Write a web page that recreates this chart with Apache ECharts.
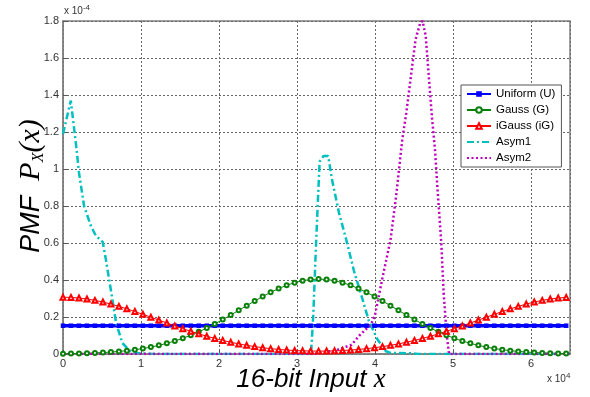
<!DOCTYPE html>
<html>
<head>
<meta charset="utf-8">
<script src="https://cdn.jsdelivr.net/npm/echarts@6/dist/echarts.min.js"></script>
<style>html,body{margin:0;padding:0;background:#fff}#c{width:590px;height:397px}</style>
</head>
<body>
<div id="c"></div>
<script>
// Input codes sampled every 1024 (x axis, raw units)
var xSamples = [0,1024,2048,3072,4096,5120,6144,7168,8192,9216,10240,11264,12288,13312,14336,15360,
16384,17408,18432,19456,20480,21504,22528,23552,24576,25600,26624,27648,28672,29696,30720,31744,
32768,33792,34816,35840,36864,37888,38912,39936,40960,41984,43008,44032,45056,46080,47104,48128,
49152,50176,51200,52224,53248,54272,55296,56320,57344,58368,59392,60416,61440,62464,63488,64512];

// values in units of 1e-4
var uniformU = [0.153,0.153,0.153,0.153,0.153,0.153,0.153,0.153,0.153,0.153,0.153,0.153,0.153,0.153,0.153,0.153,
0.153,0.153,0.153,0.153,0.153,0.153,0.153,0.153,0.153,0.153,0.153,0.153,0.153,0.153,0.153,0.153,
0.153,0.153,0.153,0.153,0.153,0.153,0.153,0.153,0.153,0.153,0.153,0.153,0.153,0.153,0.153,0.153,
0.153,0.153,0.153,0.153,0.153,0.153,0.153,0.153,0.153,0.153,0.153,0.153,0.153,0.153,0.153,0.153];

var gaussG = [0.0016,0.0022,0.0031,0.0043,0.0059,0.0079,0.0105,0.0138,0.0180,0.0232,0.0296,0.0374,0.0467,0.0576,0.0703,0.0850,
0.1015,0.1200,0.1404,0.1625,0.1860,0.2106,0.2359,0.2614,0.2866,0.3108,0.3334,0.3538,0.3715,0.3858,0.3963,0.4028,
0.405,0.4028,0.3963,0.3858,0.3715,0.3538,0.3334,0.3108,0.2866,0.2614,0.2359,0.2106,0.1860,0.1625,0.1404,0.1200,
0.1015,0.0850,0.0703,0.0576,0.0467,0.0374,0.0296,0.0232,0.0180,0.0138,0.0105,0.0079,0.0059,0.0043,0.0031,0.0022];

var iGaussIG = [0.307,0.3059,0.3026,0.2973,0.2899,0.2807,0.2698,0.2575,0.2440,0.2296,0.2145,0.1989,0.1832,0.1675,0.1520,0.1370,
0.1226,0.1089,0.0961,0.0843,0.0734,0.0636,0.0547,0.0468,0.0399,0.0340,0.0289,0.0247,0.0214,0.0188,0.0170,0.0160,
0.0156,0.0160,0.0170,0.0188,0.0214,0.0247,0.0289,0.0340,0.0399,0.0468,0.0547,0.0636,0.0734,0.0843,0.0961,0.1089,
0.1226,0.1370,0.1520,0.1675,0.1832,0.1989,0.2145,0.2296,0.2440,0.2575,0.2698,0.2807,0.2899,0.2973,0.3026,0.3059];

var asym1X = [0,1000,1700,2050,2700,3600,4200,5100,5500,6200,6800,7600,8700,10000,12000,31800,32100,32400,32700,32900,33400,34000,34500,35400,36300,37300,38300,39200,40300,41400,42000,44700,45500,65000];
var asym1Y = [1.19,1.37,1.12,0.98,0.80,0.69,0.64,0.605,0.51,0.33,0.17,0.06,0.01,0.003,0,0,0.22,0.55,0.85,1.04,1.07,1.07,0.94,0.76,0.62,0.45,0.31,0.18,0.08,0.015,0.006,0.004,0,0];

var asym2X = [0,32000,33000,35000,37000,38000,39500,40000,40900,42000,42700,43500,44000,44600,45200,45800,46100,46500,46900,47300,47700,48000,48500,48800,49200,49500,65000];
var asym2Y = [0,0,0.005,0.02,0.05,0.10,0.16,0.21,0.40,0.62,0.85,1.16,1.30,1.50,1.70,1.79,1.80,1.72,1.50,1.28,1.10,0.90,0.60,0.33,0.10,0,0];

var seriesNames = ['Uniform (U)','Gauss (G)','iGauss (iG)','Asym1','Asym2'];
var xTickLabels = ['0','1','2','3','4','5','6'];
var yTickLabels = ['0','0.2','0.4','0.6','0.8','1','1.2','1.4','1.6','1.8'];

function pairs(xs, ys){ return xs.map(function(x,i){ return [x, ys[i]]; }); }

var chart = echarts.init(document.getElementById('c'), null, {renderer:'canvas'});
var grid = {left:63, right:20, top:21, bottom:43, show:true, borderColor:'#808080', borderWidth:1.5, backgroundColor:'#fff'};
var split = {show:true, lineStyle:{color:'#666', width:1, type:[2,2]}};
var hidden = {color:'rgba(0,0,0,0)', borderColor:'rgba(0,0,0,0)', borderWidth:0, opacity:0};
chart.setOption({
  animation:false,
  grid: grid,
  xAxis: {
    type:'value', min:0, max:65000, interval:10000,
    axisLine:{show:true, onZero:false, lineStyle:{color:'#808080', width:1.5}},
    axisTick:{show:true, inside:true, length:4, lineStyle:{color:'#555'}},
    axisLabel:{color:'#333', fontSize:11, fontFamily:'Liberation Sans, Arial', margin:4, showMaxLabel:false,
      formatter:function(v){ var i = Math.round(v/10000); return (v % 10000 === 0 && xTickLabels[i] !== undefined) ? xTickLabels[i] : ''; }},
    splitLine: split
  },
  yAxis: {
    type:'value', min:0, max:1.8, interval:0.2,
    axisLine:{show:true, lineStyle:{color:'#808080', width:1.5}},
    axisTick:{show:true, inside:true, length:4, lineStyle:{color:'#555'}},
    axisLabel:{color:'#333', fontSize:11, fontFamily:'Liberation Sans, Arial', margin:4,
      formatter:function(v){ var i = Math.round(v/0.2); return yTickLabels[i] !== undefined ? yTickLabels[i] : ''; }},
    splitLine: split
  },
  legend: {
    orient:'vertical', left:461, top:85,
    data: [seriesNames[0], seriesNames[1], seriesNames[2],
      {name:seriesNames[3], itemStyle:hidden}, {name:seriesNames[4], itemStyle:hidden}],
    backgroundColor:'#fff', borderColor:'#555', borderWidth:1,
    padding:[3,6,3,5], itemGap:4, itemWidth:24, itemHeight:7,
    textStyle:{color:'#000', fontSize:11.5, fontFamily:'Liberation Sans, Arial'}
  },
  series: [
    {name:seriesNames[0], type:'line', data:pairs(xSamples, uniformU), symbol:'rect', symbolSize:4.5, showAllSymbol:true,
      lineStyle:{color:'#0000ff', width:3.5}, itemStyle:{color:'#0000ff'}},
    {name:seriesNames[1], type:'line', data:pairs(xSamples, gaussG), symbol:'emptyCircle', symbolSize:4, showAllSymbol:true,
      lineStyle:{color:'#0a800a', width:1}, itemStyle:{color:'#0a800a', borderWidth:1}},
    {name:seriesNames[2], type:'line', data:pairs(xSamples, iGaussIG), symbol:'emptyTriangle', symbolSize:5, showAllSymbol:true,
      lineStyle:{color:'#ff0000', width:1}, itemStyle:{color:'#ff0000', borderWidth:1}},
    {name:seriesNames[3], type:'line', data:pairs(asym1X, asym1Y), symbol:'none',
      lineStyle:{color:'#00bfbf', width:2.5, type:[7,3,2,3]}, itemStyle:{color:'#00bfbf'}},
    {name:seriesNames[4], type:'line', data:pairs(asym2X, asym2Y), symbol:'none',
      lineStyle:{color:'#bf00bf', width:2.5, type:[2,2.5]}, itemStyle:{color:'#bf00bf'}}
  ],
  graphic: [
    {type:'text', left:64, top:4, style:{text:'x 10{s|-4}', fill:'#333', font:'10px Liberation Sans',
      rich:{s:{fontSize:8, fill:'#333', verticalAlign:'top', padding:[0,0,6,0]}}}},
    {type:'text', left:547, top:372, style:{text:'x 10{s|4}', fill:'#333', font:'10px Liberation Sans',
      rich:{s:{fontSize:8, fill:'#333', padding:[0,0,6,0]}}}},
    {type:'text', x:311, y:380, style:{text:'{a|16-bit Input }{b|x}', align:'center', verticalAlign:'middle',
      rich:{a:{fontSize:26, fontStyle:'italic', fontFamily:'Liberation Sans', fill:'#000'},
            b:{fontSize:27, fontStyle:'italic', fontFamily:'Liberation Serif', fill:'#000'}}}},
    {type:'text', x:31, y:186, rotation:Math.PI/2, style:{text:'{a|PMF  }{b|P}{c|X}{b|(x)}', align:'center', verticalAlign:'middle',
      rich:{a:{fontSize:27, fontStyle:'italic', fontFamily:'Liberation Sans', fill:'#000'},
            b:{fontSize:30, fontStyle:'italic', fontFamily:'Liberation Serif', fill:'#000'},
            c:{fontSize:16, fontStyle:'italic', fontFamily:'Liberation Serif', fill:'#000', padding:[16,0,0,0]}}}}
  ]
});
</script>
</body>
</html>
